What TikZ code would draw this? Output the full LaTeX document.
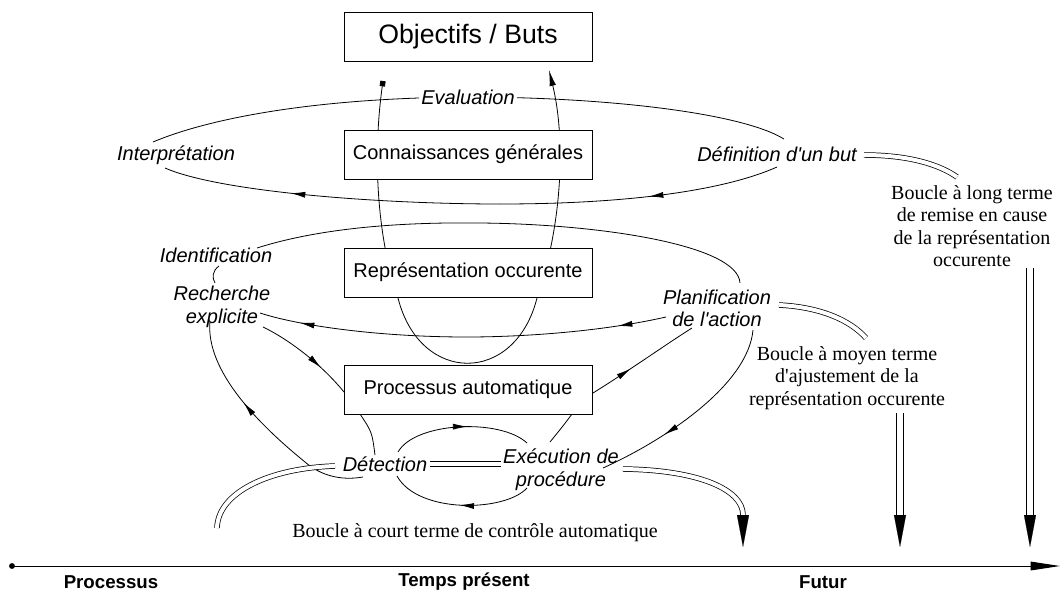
\documentclass[tikz,border=0pt]{standalone}
\usepackage{fontspec}
\setmainfont{Liberation Serif}
\newfontfamily\arialf{Liberation Sans}
\newfontfamily\timesf{Liberation Serif}
\usetikzlibrary{arrows.meta,decorations.markings}
\pgfdeclarelayer{bg}
\pgfsetlayers{bg,main}
\begin{document}
\begin{tikzpicture}[x=0.75pt,y=-0.75pt,
  box/.style={draw,line width=0.75pt,fill=white,minimum width=186pt,minimum height=36.75pt,inner sep=0pt,font=\arialf\fontsize{15}{18}\selectfont},
  lab/.style={inner sep=0pt,font=\arialf\itshape\fontsize{15}{17}\selectfont,align=center},
  note/.style={inner sep=0pt,font=\timesf\fontsize{15}{16.8}\selectfont,align=center},
  axlab/.style={inner sep=0pt,font=\arialf\bfseries\fontsize{14}{16}\selectfont},
  ln/.style={line width=0.6pt},
  dbl/.style={double,double distance=3pt,line width=0.55pt},
  vdbl/.style={double,double distance=4.5pt,line width=0.55pt},
  midarrow/.style={postaction={decorate},decoration={markings,mark=at position #1 with {\arrow{Latex[length=11pt,width=4.5pt]}}}},
  twoarrows/.style 2 args={postaction={decorate},decoration={markings,mark=at position #1 with {\arrow{Latex[length=11pt,width=4.5pt]}},mark=at position #2 with {\arrow{Latex[length=11pt,width=4.5pt]}}}},
  bigtip/.style={line width=0.1pt,-{Triangle[length=24pt,width=9pt]}},
]
\useasboundingbox (0,0) rectangle (1060,594);

% boxes
\node[box,font=\arialf\fontsize{20}{24}\selectfont] (obj) at (468,36.5) {Objectifs / Buts};
\node[box] (con) at (468,154.5) {Connaissances générales};
\node[box] (rep) at (468,272.5) {Représentation occurente};
\node[box] (proc) at (468,389.5) {Processus automatique};

% labels
\node[lab] (interp) at (176,155) {Interprétation};
\node[lab,fill=white,inner sep=2pt] (eval) at (468,97) {Evaluation};
\node[lab] (defb) at (777,154) {Définition d'un but};
\node[lab] (ident) at (216,255) {Identification};
\node[lab] (rech) at (222,306.5) {Recherche\\explicite};
\node[lab] (plan) at (717,308.5) {Planification\\de l'action};
\node[lab] (det) at (385,464) {Détection};
\node[lab] (exec) at (561,469.5) {Exécution de\\procédure};

% notes
\node[note] (longn) at (972,226) {Boucle à long terme\\de remise en cause\\de la représentation\\occurente};
\node[note] (moyn) at (847,378) {Boucle à moyen terme\\d'ajustement de la\\représentation occurente};
\node[note] (courtn) at (475,533) {Boucle à court terme de contrôle automatique};

% axis
\coordinate (a0) at (12,566);
\coordinate (a1) at (1060,566);
\fill (a0) circle (2.2pt);
\draw[line width=0.75pt,-{Triangle[length=22pt,width=6.5pt]}] (a0) -- (a1);
\node[axlab] (axp) at (111,582) {Processus};
\node[axlab] (axt) at (464,582) {Temps présent};
\node[axlab] (axf) at (823,582) {Futur};

% coordinates for connector ends
\coordinate (i1) at (153,142);
\coordinate (d1) at (784,139);
\coordinate (top1) at (468,97);
\coordinate (d2) at (777,167);
\coordinate (bot1) at (500,204);
\coordinate (i2) at (165,168);
\coordinate (uS) at (383,81);
\coordinate (uL) at (398,298);
\coordinate (uR) at (537,298);
\coordinate (uE) at (549,70);
\coordinate (id1) at (257,248);
\coordinate (mid1) at (480,223);
\coordinate (pl1) at (740,283);
\coordinate (ir1) at (219,266);
\coordinate (ir2) at (215,283);
\coordinate (pl2) at (666,317);
\coordinate (mid2) at (467,337);
\coordinate (re1) at (260,313);
\coordinate (re2) at (263,327);
\coordinate (pa1) at (344,392);
\coordinate (de1) at (363,477);
\coordinate (de0) at (305,462);
\coordinate (re3) at (210,321);
\coordinate (p1) at (360,414);
\coordinate (de4) at (375,455);
\coordinate (p2) at (572,414);
\coordinate (ex4) at (550,442);
\coordinate (pr2) at (593,393);
\coordinate (pl3) at (692,328);
\coordinate (pl4) at (753,330);
\coordinate (ex1) at (603,468);
\coordinate (de2) at (398,452);
\coordinate (ex2) at (527,443);
\coordinate (ex3) at (527,488);
\coordinate (de3) at (397,476);
\coordinate (dd1) at (430,464);
\coordinate (dd2) at (501,464);
\coordinate (dl1) at (335,466);
\coordinate (dl2) at (217,528);
\coordinate (er1) at (623,469);
\coordinate (er2) at (743,515);
\coordinate (er3) at (743,547);
\coordinate (pd1) at (779,305);
\coordinate (pd2) at (866,338);
\coordinate (md1) at (900,413);
\coordinate (md2) at (900,515);
\coordinate (md3) at (900,547);
\coordinate (ld1) at (864,155);
\coordinate (ld2) at (957,177);
\coordinate (lv1) at (1030,268);
\coordinate (lv2) at (1030,515);
\coordinate (lv3) at (1030,547);

\begin{pgfonlayer}{bg}
% top loop
\draw[ln] (i1) .. controls (200,122) and (300,98) .. (top1) .. controls (600,97) and (740,112) .. (d1);
\draw[ln,midarrow=0.47] (d2) .. controls (730,188) and (640,204) .. (bot1);
\draw[ln,midarrow=0.62] (bot1) .. controls (380,204) and (220,192) .. (i2);
% U curve
\draw[ln,{Square[length=4pt,width=4pt]}-{Latex[length=12pt,width=4.8pt]}] (uS) .. controls (372,160) and (378,240) .. (uL) .. controls (420,385) and (515,385) .. (uR) .. controls (562,225) and (566,140) .. (uE);
% middle loop
\draw[ln] (id1) .. controls (320,228) and (400,222) .. (mid1) .. controls (600,224) and (738,245) .. (pl1);
\draw[ln] (ir1) .. controls (212,271) and (212,278) .. (ir2);
\draw[ln,twoarrows={0.12}{0.9}] (pl2) .. controls (600,332) and (520,337) .. (mid2) .. controls (380,337) and (300,326) .. (re1);
\draw[ln,midarrow=0.68] (re2) .. controls (290,340) and (322,365) .. (pa1);
\draw[ln,midarrow=0.62] (de1) .. controls (340,481) and (320,475) .. (de0) .. controls (262,427) and (205,372) .. (re3);
\draw[ln,midarrow=0.38] (pr2) .. controls (630,370) and (665,345) .. (pl3);
\draw[ln,midarrow=0.67] (pl4) .. controls (748,385) and (665,440) .. (ex1);
% short loop
\draw[ln] (p1) .. controls (372,432) .. (de4);
\draw[ln] (p2) .. controls (563,426) .. (ex4);
\draw[ln,midarrow=0.55] (de2) .. controls (415,422) and (500,418) .. (ex2);
\draw[ln,midarrow=0.5] (ex3) .. controls (505,512) and (418,514) .. (de3);
% double lines
\draw[dbl] (dd1) -- (dd2);
\draw[dbl] (dl1) .. controls (270,468) and (218,492) .. (dl2);
\draw[dbl] (er1) .. controls (700,470) and (743,490) .. (er2);
\draw[bigtip] (er2) -- (er3);
\draw[dbl] (pd1) .. controls (820,307) and (850,320) .. (pd2);
\draw[vdbl] (md1) -- (md2);
\draw[bigtip] (md2) -- (md3);
\draw[dbl] (ld1) .. controls (910,155) and (940,165) .. (ld2);
\draw[vdbl] (lv1) -- (lv2);
\draw[bigtip] (lv2) -- (lv3);
\end{pgfonlayer}
\end{tikzpicture}
\end{document}
